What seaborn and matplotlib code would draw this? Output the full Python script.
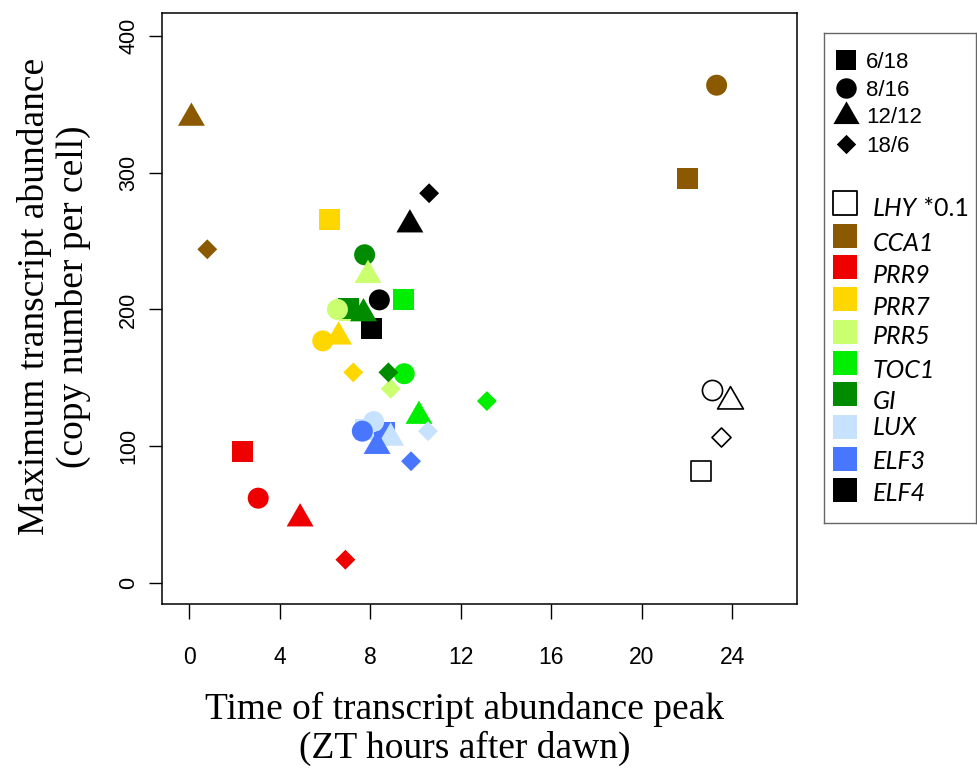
import numpy as np
import pandas as pd
import matplotlib
matplotlib.use("Agg")
import matplotlib.pyplot as plt
from matplotlib.path import Path
import seaborn as sns

# ---------------- data ----------------
genes = ["LHY", "CCA1", "PRR9", "PRR7", "PRR5", "TOC1", "GI", "LUX", "ELF3", "ELF4"]
photoperiods = ["6/18", "8/16", "12/12", "18/6"]
colors = ["#FFFFFF", "#8B5A00", "#EE0000", "#FFD700", "#CAFF70",
          "#00EE00", "#008B00", "#C6E2FF", "#4876FF", "#000000"]

# peak time (ZT h) per gene, order: 6/18, 8/16, 12/12, 18/6
peak_LHY  = [22.6, 23.1, 23.9, 23.5]
peak_CCA1 = [22.0, 23.3, 0.1, 0.8]
peak_PRR9 = [2.35, 3.05, 4.9, 6.9]
peak_PRR7 = [6.2, 5.9, 6.6, 7.25]
peak_PRR5 = [7.1, 6.55, 7.9, 8.9]
peak_TOC1 = [9.45, 9.5, 10.15, 13.15]
peak_GI   = [7.05, 7.75, 7.7, 8.8]
peak_LUX  = [7.8, 8.15, 8.9, 10.55]
peak_ELF3 = [8.65, 7.65, 8.3, 9.8]
peak_ELF4 = [8.05, 8.4, 9.75, 10.6]

# maximum abundance (copies per cell); LHY shown *0.1
max_LHY  = [82, 141, 133, 107]
max_CCA1 = [296, 364, 340, 244]
max_PRR9 = [96, 62, 47, 17]
max_PRR7 = [266, 177, 180, 154]
max_PRR5 = [199, 200, 225, 142]
max_TOC1 = [207, 153, 122, 133]
max_GI   = [201, 240, 197, 154]
max_LUX  = [112, 118, 106, 111]
max_ELF3 = [110, 111, 100, 89]
max_ELF4 = [186, 207, 262, 285]

x_ticks = [0, 4, 8, 12, 16, 20, 24]
y_ticks = [0, 100, 200, 300, 400]
xlabel = "Time of transcript abundance peak\n(ZT hours after dawn)"
ylabel = "Maximum transcript abundance\n(copy number per cell)"
legend_genes = ["LHY", "CCA1", "PRR9", "PRR7", "PRR5", "TOC1", "GI", "LUX", "ELF3", "ELF4"]

peaks = [peak_LHY, peak_CCA1, peak_PRR9, peak_PRR7, peak_PRR5,
         peak_TOC1, peak_GI, peak_LUX, peak_ELF3, peak_ELF4]
maxes = [max_LHY, max_CCA1, max_PRR9, max_PRR7, max_PRR5,
         max_TOC1, max_GI, max_LUX, max_ELF3, max_ELF4]

rows = []
for gi, g in enumerate(genes):
    for pi, p in enumerate(photoperiods):
        rows.append(dict(gene=g, photoperiod=p, gidx=gi,
                         peak=peaks[gi][pi], abundance=maxes[gi][pi]))
df = pd.DataFrame(rows)

# ---------------- styling ----------------
sns.set_style("white")
plt.rcParams["font.family"] = ["Liberation Sans", "DejaVu Sans"]
plt.rcParams["text.color"] = "black"
plt.rcParams["axes.labelcolor"] = "black"
plt.rcParams["xtick.color"] = "black"
plt.rcParams["ytick.color"] = "black"

tri = Path([(0, 1), (-0.8660254, -0.5), (0.8660254, -0.5), (0, 1)],
           [Path.MOVETO, Path.LINETO, Path.LINETO, Path.CLOSEPOLY])
dia = Path([(0, 1), (1, 0), (0, -1), (-1, 0), (0, 1)],
           [Path.MOVETO, Path.LINETO, Path.LINETO, Path.LINETO, Path.CLOSEPOLY])
sq = Path([(-1, -1), (1, -1), (1, 1), (-1, 1), (-1, -1)],
          [Path.MOVETO, Path.LINETO, Path.LINETO, Path.LINETO, Path.CLOSEPOLY])
shape_marker = {"6/18": sq, "8/16": "o", "12/12": tri, "18/6": dia}
shape_size = {"6/18": 228, "8/16": 228, "12/12": 500, "18/6": 205}
palette = dict(zip(genes, colors))

fig = plt.figure(figsize=(9.78, 7.70), dpi=100)
W, H = 978, 770
ax = fig.add_axes([162 / W, 1 - 604 / H, (797 - 162) / W, (604 - 13) / H])

for p in photoperiods:
    sub = df[df.photoperiod == p].sort_values("gidx")
    col = sub[sub.gene != "LHY"]
    lhy = sub[sub.gene == "LHY"]
    sns.scatterplot(data=lhy, x="peak", y="abundance", ax=ax, color="white",
                    edgecolor="black", linewidth=1.2, marker=shape_marker[p],
                    s=shape_size[p] * 0.92, legend=False, zorder=3)
    sns.scatterplot(data=col, x="peak", y="abundance", hue="gene",
                    hue_order=genes, palette=palette, ax=ax, linewidth=0,
                    marker=shape_marker[p], s=shape_size[p], legend=False,
                    zorder=3)

ax.set_xlim(-1.2, 26.85)
ax.set_ylim(-15.4, 416.8)
ax.set_xticks(x_ticks)
ax.set_yticks(y_ticks)
ax.set_xticklabels([str(v) for v in x_ticks], fontsize=16.5, color="black")
ax.set_yticklabels([str(v) for v in y_ticks], fontsize=15.5, rotation=90,
                   va="center", color="black")
ax.tick_params(axis="x", bottom=True, direction="out", length=11, width=1,
               color="black", pad=19)
ax.tick_params(axis="y", left=True, direction="out", length=9.5, width=1,
               color="black", pad=7)
for s in ax.spines.values():
    s.set_visible(True)
    s.set_color("black")
    s.set_linewidth(1.1)

ax.set_xlabel(xlabel, fontsize=27, family=["Liberation Serif"], linespacing=1.15,
              color="black")
ax.set_ylabel(ylabel, fontsize=27, family=["Liberation Serif"], linespacing=1.15,
              color="black")
ax.xaxis.set_label_coords(0.477, -0.148)
ax.yaxis.set_label_coords(-0.112, 0.52)

# ---------------- legend (manual, pixel coordinates) ----------------
lx0, lx1, ly0, ly1 = 824, 976, 33, 523
lax = fig.add_axes([lx0 / W, 1 - ly1 / H, (lx1 - lx0) / W, (ly1 - ly0) / H])
lax.set_xlim(lx0, lx1)
lax.set_ylim(ly1, ly0)
lax.set_xticks([])
lax.set_yticks([])
for s in lax.spines.values():
    s.set_visible(True)
    s.set_color("#666666")
    s.set_linewidth(1.0)

shape_y = [60, 88, 116, 144]
shape_ty = [63, 91, 118, 147]
for p, yy, ty in zip(photoperiods, shape_y, shape_ty):
    lax.scatter([846], [yy], marker=shape_marker[p], s=shape_size[p] * 0.95,
                color="black", linewidth=0)
    lax.text(866, ty, p, fontsize=16, va="center", ha="left", color="black")

gene_sq_y = [203, 236, 267, 299, 332, 363, 394, 427, 459, 490]
gene_txt_y = [209, 244, 276, 308, 337, 371, 402, 428, 462, 494]
for g, yy, ty in zip(legend_genes, gene_sq_y, gene_txt_y):
    if g == "LHY":
        lax.scatter([845], [yy], marker=sq, s=300, color="white",
                    edgecolor="black", linewidth=1.3)
    else:
        lax.scatter([845], [yy], marker=sq, s=310, color=palette[g], linewidth=0)
    t = lax.text(873, ty, g, fontsize=18, style="italic", va="center", ha="left",
                 family=["Lato", "DejaVu Sans"], color="black")
    if g == "LHY":
        lax.annotate(" *0.1", xy=(1, 0.5), xycoords=t, va="center", ha="left",
                     fontsize=18, family=["Lato", "DejaVu Sans"], color="black")

fig.savefig("out.png", dpi=100)
